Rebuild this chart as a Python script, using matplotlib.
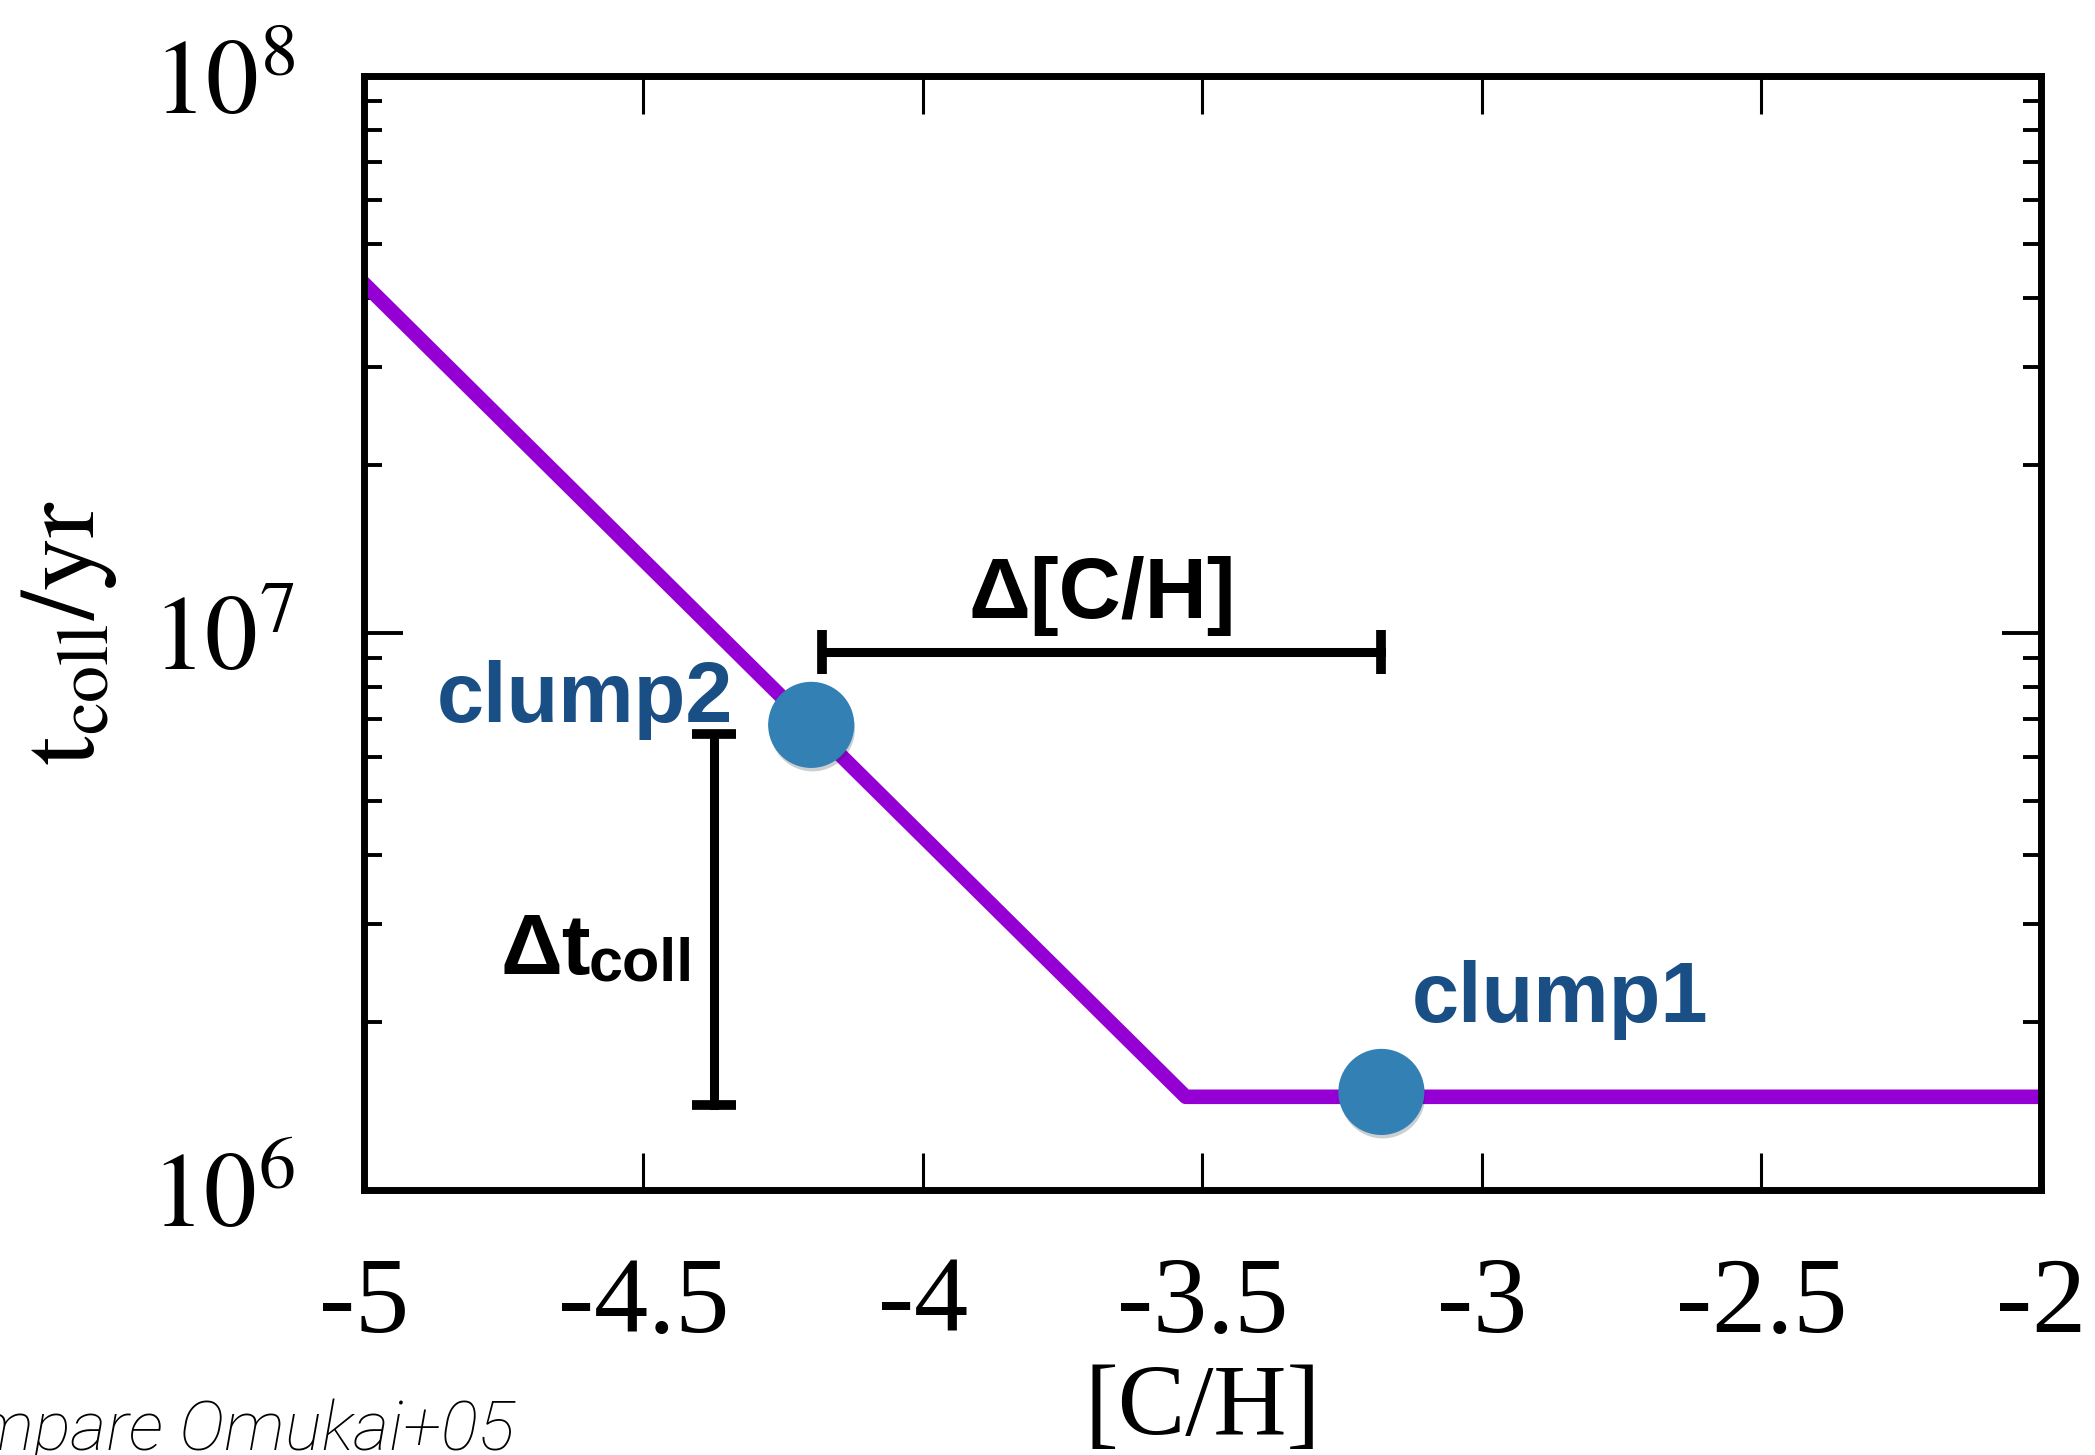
import numpy as np
import matplotlib
matplotlib.use("Agg")
import matplotlib.pyplot as plt
import matplotlib.patheffects as pe

# collapse time vs carbon abundance
ch = [-5.0, -3.53, -2.0]
tcoll = [4.24e7, 1.47e6, 1.47e6]

clump_names = ["clump1", "clump2"]
clump_ch = [-3.18, -4.2]
clump_t = [1.5e6, 6.84e6]

dch_x = [-4.18, -3.18]
dch_y = 9.25e6
dt_x = -4.374
dt_y = [1.42e6, 6.59e6]

xticks = [-5, -4.5, -4, -3.5, -3, -2.5, -2]
xticklabels = ["-5", "-4.5", "-4", "-3.5", "-3", "-2.5", "-2"]
yticks = [1e6, 1e7, 1e8]
yticklabels = [r"$10^{6}$", r"$10^{7}$", r"$10^{8}$"]

PURPLE = "#9400d3"
DOT = "#3380b4"
LABEL = "#1a4f86"
SANS = ["Liberation Sans", "DejaVu Sans"]

plt.rcParams["font.family"] = ["Liberation Serif", "DejaVu Serif"]
plt.rcParams["mathtext.fontset"] = "stix"

fig = plt.figure(figsize=(20.95, 14.55), dpi=100)
ax = fig.add_axes([364/2095, 1 - 1190/1455, 1677/2095, 1114/1455])

ax.plot(ch, tcoll, color=PURPLE, lw=10.5, zorder=2)

ax.plot(clump_ch, clump_t, ls="none", marker="o", ms=61, color=DOT, mec=DOT, zorder=4,
        path_effects=[pe.SimplePatchShadow(offset=(1, -3), alpha=0.22), pe.Normal()])

# delta bars
ax.plot(dch_x, [dch_y, dch_y], color="k", lw=6.5, marker="|", ms=32, mew=7, zorder=3)
ax.plot([dt_x, dt_x], dt_y, color="k", lw=6.5, marker="_", ms=32, mew=7, zorder=3)

ax.set_yscale("log")
ax.set_xlim(-5, -2)
ax.set_ylim(1e6, 1e8)

ax.set_xticks(xticks)
ax.set_xticklabels(xticklabels, fontsize=78)
ax.set_yticks(yticks)
ax.set_yticklabels(yticklabels, fontsize=76)
ax.xaxis.set_minor_locator(matplotlib.ticker.NullLocator())

ax.tick_params(axis="x", which="major", direction="in", top=True, length=27, width=2.2, pad=48)
ax.tick_params(axis="y", which="major", direction="in", right=True, length=28, width=2.8, pad=50)
ax.tick_params(axis="y", which="minor", direction="in", right=True, length=13, width=2.8)
ax.yaxis.set_minor_formatter(matplotlib.ticker.NullFormatter())

for s in ax.spines.values():
    s.set_linewidth(5)

ax.set_xlabel("[C/H]", fontsize=73)
ax.xaxis.set_label_coords(0.5, -0.157)
ax.set_ylabel(r"$\mathrm{t_{coll}/yr}$", fontsize=76)
ax.yaxis.set_label_coords(-0.146, 0.5)

# annotations
ax.text(-4.869, 6.92e6, "clump2", color=LABEL, fontsize=61, fontweight="bold",
        family=SANS, ha="left", va="baseline")
ax.text(-3.125, 2.0e6, "clump1", color=LABEL, fontsize=61, fontweight="bold",
        family=SANS, ha="left", va="baseline")
ax.text(np.mean(dch_x), 1.064e7, "Δ[C/H]", color="k", fontsize=62, fontweight="bold",
        family=SANS, ha="center", va="baseline")
ax.text(-4.755, 2.44e6, "Δt", color="k", fontsize=62, fontweight="bold",
        family=SANS, ha="left", va="baseline")
ax.text(-4.598, 2.38e6, "coll", color="k", fontsize=44, fontweight="bold",
        family=SANS, ha="left", va="baseline")

# reference note, partly off the left edge as in the original slide
fig.text(515/2095, 1 - 1450/1455, "compare Omukai+05", fontsize=50, style="italic",
         fontweight="light", family=["Roboto", "DejaVu Sans"], ha="right", va="baseline")

fig.savefig("out.png", dpi=100)
